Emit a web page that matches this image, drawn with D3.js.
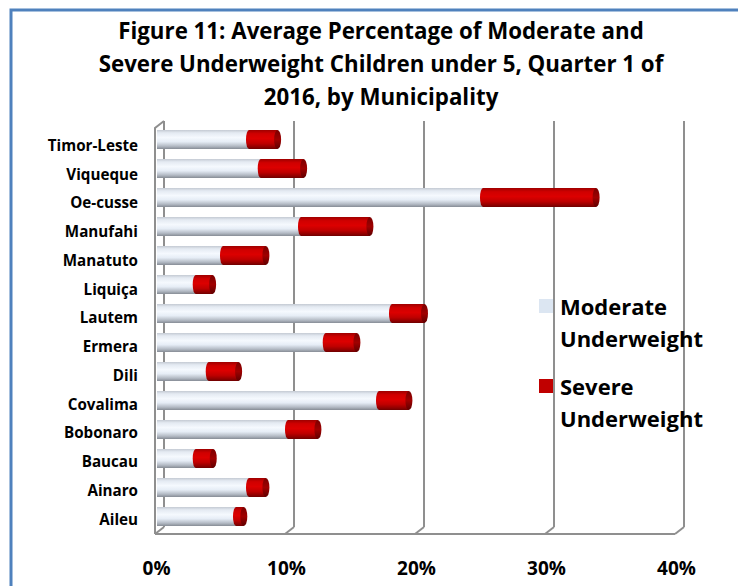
<!DOCTYPE html>
<html>
<head>
<meta charset="utf-8">
<script src="https://cdn.jsdelivr.net/npm/d3@7/dist/d3.min.js"></script>
<style>
  body { margin: 0; background: #fff; }
  svg { display: block; font-family: "Open Sans", "Liberation Sans", sans-serif; }
</style>
</head>
<body>
<svg id="chart" width="738" height="586"></svg>
<script>
// categories top to bottom, as shown
const categories = ["Timor-Leste", "Viqueque", "Oe-cusse", "Manufahi", "Manatuto", "Liquiça",
  "Lautem", "Ermera", "Dili", "Covalima", "Bobonaro", "Baucau", "Ainaro", "Aileu"];
const moderate = [7.0, 7.9, 25.0, 11.0, 5.0, 2.9, 18.0, 12.9, 3.9, 17.0, 10.0, 2.9, 7.0, 6.0];
const severe   = [2.2, 3.3, 8.7, 5.3, 3.3, 1.3, 2.5, 2.4, 2.3, 2.3, 2.3, 1.35, 1.3, 0.6];
const xTicks = [0, 10, 20, 30, 40];
const titleLines = ["Figure 11: Average Percentage of Moderate and",
  "Severe Underweight Children under 5, Quarter 1 of",
  "2016, by Municipality"];
const seriesNames = [["Moderate", "Underweight"], ["Severe", "Underweight"]];

const svg = d3.select("#chart");
const defs = svg.append("defs");

function gradient(id, stops) {
  const g = defs.append("linearGradient").attr("id", id)
    .attr("x1", 0).attr("y1", 0).attr("x2", 0).attr("y2", 1);
  stops.forEach(s => g.append("stop").attr("offset", s[0]).attr("stop-color", s[1]));
}
gradient("gModerate", [[0, "#c4cad3"], [0.15, "#e4eaf2"], [0.4, "#f5f9fe"], [0.62, "#e6edf6"], [0.85, "#b3bac4"], [1, "#868c95"]]);
gradient("gSevere", [[0, "#9e0000"], [0.2, "#d00000"], [0.45, "#dc0000"], [0.7, "#c00000"], [0.9, "#8e0000"], [1, "#6e0000"]]);
gradient("gCap", [[0, "#7a0000"], [0.5, "#a00000"], [1, "#5e0000"]]);

// blue frame
svg.append("rect")
  .attr("x", 11).attr("y", 10).attr("width", 760).attr("height", 600)
  .attr("fill", "none").attr("stroke", "#4f81bd").attr("stroke-width", 3);

// title
svg.append("g").selectAll("text")
  .data(titleLines).enter().append("text")
  .attr("x", 381).attr("y", (d, i) => 39 + i * 33)
  .attr("text-anchor", "middle")
  .attr("font-size", 22.3).attr("font-weight", "bold").attr("fill", "#000")
  .text(d => d);

const x = d3.scaleLinear().domain([0, 40]).range([158, 678]);
const y = d3.scalePoint().domain(categories).range([139.5, 516.5]);
const yLabel = y.copy().range([145.5, 519]);   // labels sit a touch lower than bars
const barH = 19;
const depth = { dx: 9, dy: 7 };   // 3d wall offset
const backX = v => x(v) + 6;
const frontX = v => backX(v) - depth.dx;
const wallTop = 121, backBottom = 527, frontBottom = backBottom + depth.dy;

// walls and gridlines
const grid = svg.append("g").attr("stroke", "#8f8f8f").attr("stroke-width", 2).attr("fill", "none");
grid.selectAll("line.back")
  .data(xTicks).enter().append("line")
  .attr("x1", d => backX(d)).attr("x2", d => backX(d))
  .attr("y1", wallTop).attr("y2", backBottom);
grid.selectAll("line.floor")
  .data(xTicks).enter().append("line")
  .attr("x1", d => backX(d)).attr("y1", backBottom)
  .attr("x2", d => frontX(d)).attr("y2", frontBottom);
grid.append("line")
  .attr("x1", frontX(0)).attr("x2", frontX(40))
  .attr("y1", frontBottom).attr("y2", frontBottom);
grid.append("path")
  .attr("d", `M${frontX(0)},${frontBottom}V${wallTop + depth.dy}L${backX(0)},${wallTop}`);

// bars
const rows = categories.map((c, i) => ({ name: c, mod: moderate[i], sev: severe[i] }));
const bars = svg.append("g").selectAll("g").data(rows).enter().append("g")
  .attr("transform", d => `translate(0,${y(d.name) - barH / 2})`);

bars.append("rect")
  .attr("x", x(0) - 1).attr("y", 0)
  .attr("width", d => x(d.mod) - x(0) + 1).attr("height", barH)
  .attr("fill", "url(#gModerate)");
bars.append("rect")
  .attr("x", d => x(d.mod)).attr("y", 0)
  .attr("width", d => x(d.mod + d.sev) - x(d.mod)).attr("height", barH)
  .attr("fill", "url(#gSevere)");
bars.append("ellipse")
  .attr("cx", d => x(d.mod)).attr("cy", barH / 2)
  .attr("rx", 3).attr("ry", barH / 2)
  .attr("fill", "url(#gSevere)");
bars.append("ellipse")
  .attr("cx", d => x(d.mod + d.sev)).attr("cy", barH / 2)
  .attr("rx", 3.5).attr("ry", barH / 2)
  .attr("fill", "url(#gCap)");

// category labels
svg.append("g").selectAll("text")
  .data(categories).enter().append("text")
  .attr("x", 138).attr("y", d => yLabel(d) + 5.5)
  .attr("text-anchor", "end")
  .attr("font-size", 15.2).attr("font-weight", "bold")
  .text(d => d);

// x axis labels
const xAxis = svg.append("g")
  .attr("transform", "translate(-2,561)")
  .call(d3.axisBottom(x).tickValues(xTicks).tickSize(0).tickPadding(0).tickFormat(d => d + "%"));
xAxis.select(".domain").remove();
xAxis.selectAll("text")
  .attr("font-family", "'Open Sans', 'Liberation Sans', sans-serif")
  .attr("font-size", 19).attr("font-weight", "bold").attr("fill", "#000")
  .attr("dy", "0.71em");

// legend
const legend = svg.append("g").selectAll("g")
  .data(seriesNames).enter().append("g")
  .attr("transform", (d, i) => `translate(539,${299 + i * 80})`);
legend.append("rect")
  .attr("width", 14).attr("height", 14)
  .attr("fill", (d, i) => i === 0 ? "#dce6f2" : "#c00000");
legend.append("text")
  .attr("x", 21).attr("y", 16)
  .attr("font-size", 22).attr("font-weight", "bold")
  .selectAll("tspan").data(d => d).enter().append("tspan")
  .attr("x", 21).attr("dy", (d, i) => i === 0 ? 0 : 32)
  .text(d => d);
</script>
</body>
</html>
